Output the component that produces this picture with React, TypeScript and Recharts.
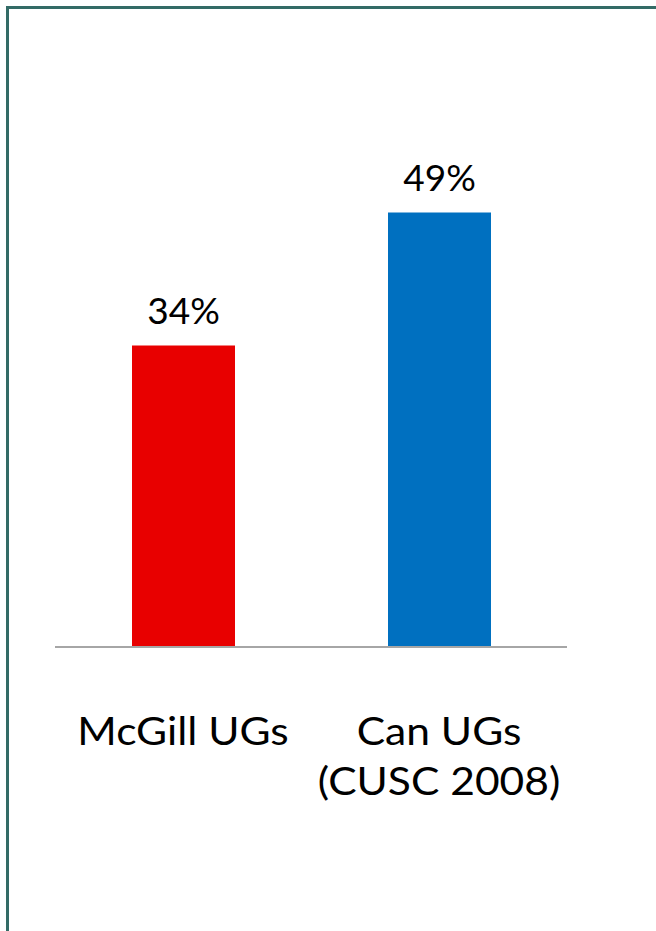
import { BarChart, Bar, XAxis, YAxis, LabelList, Cell } from "recharts";

const categories = ["McGill UGs", "Can UGs (CUSC 2008)"];
const tickLines = [["McGill UGs"], ["Can UGs", "(CUSC 2008)"]];
const values = [34, 49];
const barColors = ["#E80000", "#0070C0"];

const data = categories.map((name, i) => ({
    name,
    value: values[i],
}));

const FONT = "Lato, 'Open Sans', sans-serif";

// category text in the original is a little wider than Lato, so stretch it
const CategoryTick = (props: any) => {
    const { x, y, index } = props;
    const lines = tickLines[index] || [];
    return (
        <g>
            {lines.map((line, i) => (
                <text
                    key={i}
                    transform={`translate(${x},${y + 90 + i * 50}) scale(1.12,1)`}
                    textAnchor="middle"
                    fontFamily={FONT}
                    fontSize={38}
                    fill="#000"
                >
                    {line}
                </text>
            ))}
        </g>
    );
};

const ValueLabel = (props: any) => {
    const { x, y, width, value } = props;
    return (
        <text
            x={x + width / 2}
            y={y - 22}
            textAnchor="middle"
            fontFamily={FONT}
            fontSize={37}
            fill="#000"
        >
            {value}%
        </text>
    );
};

export default function App() {
    return (
        <div style={{ position: "absolute", left: 0, top: 0, width: 656, height: 931, background: "#fff" }}>
            <div
                style={{
                    position: "absolute",
                    left: 6,
                    top: 6,
                    right: 0,
                    bottom: 0,
                    borderTop: "3px solid #336B66",
                    borderLeft: "3px solid #336B66",
                }}
            />
            <BarChart
                width={656}
                height={931}
                data={data}
                margin={{ top: 115, right: 89, bottom: 0, left: 55 }}
                style={{ position: "absolute", left: 0, top: 0 }}
            >
                <YAxis hide domain={[0, 60]} />
                <XAxis
                    dataKey="name"
                    height={284}
                    axisLine={{ stroke: "#A6A6A6", strokeWidth: 2 }}
                    tickLine={false}
                    tick={<CategoryTick />}
                    interval={0}
                />
                <Bar dataKey="value" barSize={103} isAnimationActive={false}>
                    {data.map((d, i) => (
                        <Cell key={d.name} fill={barColors[i]} />
                    ))}
                    <LabelList dataKey="value" content={<ValueLabel />} />
                </Bar>
            </BarChart>
        </div>
    );
}
